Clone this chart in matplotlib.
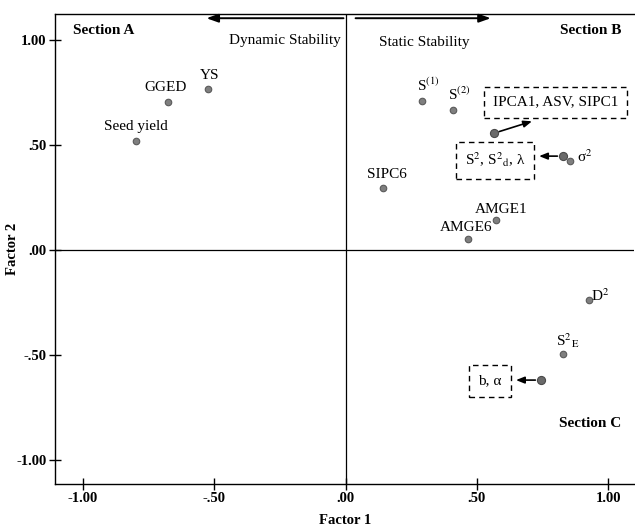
import numpy as np
import matplotlib
matplotlib.use("Agg")
import matplotlib.pyplot as plt

plt.rcParams['font.family'] = ['Liberation Serif', 'DejaVu Serif']
plt.rcParams['mathtext.fontset'] = 'stix'

# factor loadings (Factor 1, Factor 2) for each labelled point
labels = ['Seed yield', 'GGED', 'YS', 'SIPC6', 'AMGE1', 'AMGE6',
          r'S$^{(1)}$', r'S$^{(2)}$', r'σ$^2$', r'D$^2$', r'S$^2{}_{\rm E}$']
f1 = [-0.80, -0.675, -0.523, 0.141, 0.573, 0.465, 0.292, 0.41, 0.855, 0.928, 0.828]
f2 = [0.52, 0.705, 0.77, 0.295, 0.143, 0.052, 0.711, 0.667, 0.424, -0.238, -0.495]

# grouped points, shown with a dashed box
group_labels = ['IPCA1, ASV, SIPC1', r'S$^2$, S$^2{}_{\rm d}$, λ', 'b, α']
group_f1 = [0.565, 0.828, 0.744]
group_f2 = [0.557, 0.448, -0.619]

ticks = [-1.0, -0.5, 0.0, 0.5, 1.0]
tick_labels = ['-1.00', '-.50', '.00', '.50', '1.00']

fig = plt.figure(figsize=(6.35, 5.27), dpi=100)
ax = fig.add_axes([0.0866, 0.0816, 0.9124, 0.8914])
ax.set_xlim(-1.107, 1.10)
ax.set_ylim(-1.114, 1.124)

ax.axhline(0, color='black', lw=0.9)
ax.axvline(0, color='black', lw=0.9)

ax.scatter(f1, f2, s=22, color='#7f7f7f', edgecolors='#5a5a5a', linewidths=0.8, zorder=3)
ax.scatter(group_f1, group_f2, s=34, color='#6a6a6a', edgecolors='#4a4a4a', linewidths=0.8, zorder=3)

# label placement (offset in points, alignment)
offsets = {
    'Seed yield': ((0, 6), 'center'),
    'GGED': ((-2, 6), 'center'),
    'YS': ((1, 5), 'center'),
    'SIPC6': ((3, 5), 'center'),
    'AMGE1': ((4, 3), 'center'),
    'AMGE6': ((-1, 4), 'center'),
    r'S$^{(1)}$': ((-4, 5), 'left'),
    r'S$^{(2)}$': ((-4, 5), 'left'),
    r'σ$^2$': ((5, -3), 'left'),
    r'D$^2$': ((1, -3), 'left'),
    r'S$^2{}_{\rm E}$': ((-5, 3), 'left'),
}
for lab, x, y in zip(labels, f1, f2):
    off, ha = offsets[lab]
    ax.annotate(lab, (x, y), xytext=off, textcoords='offset points',
                ha=ha, va='bottom', fontsize=11)

# dashed boxes and arrows pointing from the grouped points
box_pos = [(0.80, 0.705), (0.569, 0.429), (0.55, -0.624)]
arrow_end = [(0.71, 0.614), (0.737, 0.448), (0.649, -0.619)]
for lab, (bx, by), (ex, ey), x, y in zip(group_labels, box_pos, arrow_end, group_f1, group_f2):
    ax.text(bx, by, lab, ha='center', va='center', fontsize=11,
            bbox=dict(boxstyle='square,pad=0.6', fc='white', ec='black',
                      ls=(0, (4, 3)), lw=1.0))
    ax.annotate('', xy=(ex, ey), xytext=(x, y),
                arrowprops=dict(arrowstyle='-|>,head_length=0.5,head_width=0.2',
                                color='black', lw=1.2, shrinkA=4, shrinkB=0))

# stability arrows
ax.annotate('', xy=(-0.53, 1.105), xytext=(-0.008, 1.105),
            arrowprops=dict(arrowstyle='-|>,head_length=0.7,head_width=0.25',
                            color='black', lw=1.4, shrinkA=0, shrinkB=0))
ax.annotate('', xy=(0.553, 1.105), xytext=(0.038, 1.105),
            arrowprops=dict(arrowstyle='-|>,head_length=0.7,head_width=0.25',
                            color='black', lw=1.4, shrinkA=0, shrinkB=0))
ax.text(-0.02, 1.0, 'Dynamic Stability', ha='right', va='center', fontsize=11)
ax.text(0.126, 0.99, 'Static Stability', ha='left', va='center', fontsize=11)

ax.text(-1.04, 1.048, 'Section A', ha='left', va='center', fontsize=11, fontweight='bold')
ax.text(1.05, 1.048, 'Section B', ha='right', va='center', fontsize=11, fontweight='bold')
ax.text(1.05, -0.824, 'Section C', ha='right', va='center', fontsize=11, fontweight='bold')

ax.set_xticks(ticks)
ax.set_xticklabels(tick_labels, fontweight='bold', fontsize=10.5)
ax.set_yticks(ticks)
ax.set_yticklabels(tick_labels, fontweight='bold', fontsize=10.5)
ax.tick_params(direction='inout', length=8, width=1.0, pad=2)

ax.spines['right'].set_visible(False)
for s in ['left', 'bottom', 'top']:
    ax.spines[s].set_linewidth(1.0)

ax.set_xlabel('Factor 1', fontweight='bold', fontsize=10.5, labelpad=6)
ax.set_ylabel('Factor 2', fontweight='bold', fontsize=10.5)
ax.yaxis.set_label_coords(-0.062, 0.5)

fig.savefig('out.png', dpi=100)
